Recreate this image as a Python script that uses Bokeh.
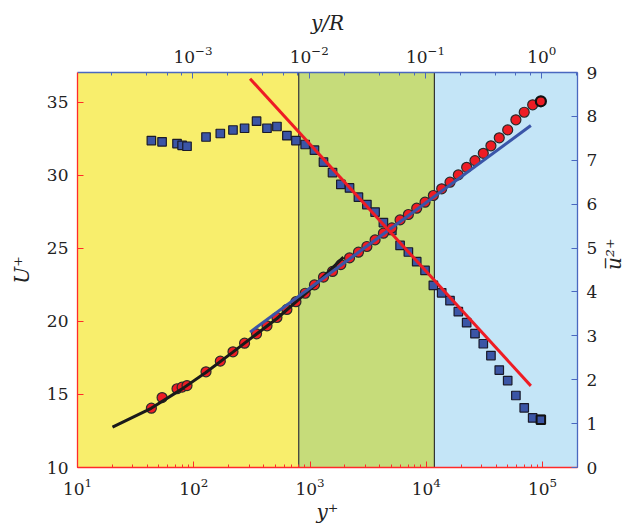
import math
from bokeh.plotting import figure
from bokeh.models import (Range1d, LinearAxis, LogAxis, LogScale, FixedTicker,
                          BoxAnnotation, Span)
from bokeh.embed import file_html
from bokeh.resources import INLINE

# ---------------- data ----------------
yplus = [43.2, 53.4, 71.8, 79.4, 87.5, 127.5, 169.2, 217.5, 273.6, 347,
         426.6, 519.5, 632.9, 756.8, 909.2, 1092.6, 1306, 1562, 1842, 2188,
         2610, 3085, 3630, 4280, 5058, 5954, 7018, 8277, 9761, 11510,
         13575, 16007, 18874, 22258, 26248, 30951, 36005, 42460, 50178, 59030,
         69620, 82306, 96800]
U_plus = [14.06, 14.79, 15.39, 15.50, 15.61, 16.55, 17.28, 17.92, 18.51, 19.15,
          19.70, 20.27, 20.82, 21.35, 21.93, 22.50, 23.03, 23.42, 23.89, 24.35,
          24.74, 25.13, 25.58, 26.04, 26.40, 26.95, 27.32, 27.75, 28.16, 28.62,
          29.08, 29.53, 30.03, 30.55, 31.01, 31.51, 32.02, 32.57, 33.11, 33.80,
          34.32, 34.83, 35.07]
u2_plus = [7.45, 7.42, 7.38, 7.34, 7.32, 7.53, 7.61, 7.69, 7.73, 7.89,
           7.73, 7.77, 7.56, 7.45, 7.36, 7.23, 6.96, 6.72, 6.45, 6.37,
           6.16, 5.99, 5.82, 5.58, 5.40, 5.06, 4.91, 4.69, 4.49, 4.15,
           3.98, 3.80, 3.55, 3.30, 3.05, 2.82, 2.55, 2.22, 1.98, 1.64,
           1.36, 1.13, 1.09]

fit_yplus = [20, 43, 80, 127, 217, 520, 1092, 1940]
fit_U = [12.76, 14.05, 15.4, 16.5, 17.9, 20.2, 22.45, 24.4]

loglaw_yplus = [305, 79400]
loglaw_U = [19.27, 33.41]

u2law_yplus = [305, 79400]
u2law_u2 = [8.86, 1.86]

region_edges = [800, 11750]
Re_tau = 98500
x_limits = [10, 200000]
U_limits = [10, 37.04]
u2_limits = [0, 9]
U_ticks = [10, 15, 20, 25, 30, 35]
u2_ticks = [0, 1, 2, 3, 4, 5, 6, 7, 8, 9]

# ---------------- style ----------------
RED = "#ee1c24"
AXRED = "#ff2a2a"
AXBLUE = "#4a68c0"
BLUE = "#3a55a8"
SQ = "#3b55a6"
YELLOW = "#f8ee6c"
GREEN = "#c6dc7a"
LIGHTBLUE = "#c4e5f7"
FONT = "DejaVu Serif"

p = figure(width=641, height=528, x_axis_type="log",
           x_range=Range1d(*x_limits), y_range=Range1d(*U_limits),
           output_backend="svg", toolbar_location=None, title=None,
           min_border_left=77, min_border_right=63,
           min_border_top=72, min_border_bottom=61)
p.outline_line_color = None
p.grid.visible = False
p.background_fill_color = "white"
p.border_fill_color = "white"

p.extra_x_ranges = {"yR": Range1d(x_limits[0] / Re_tau, x_limits[1] / Re_tau)}
p.extra_x_scales = {"yR": LogScale()}
p.extra_y_ranges = {"u2": Range1d(*u2_limits)}

# background regions
p.add_layout(BoxAnnotation(left=None, right=region_edges[0], fill_color=YELLOW,
                           fill_alpha=1, line_color=None, level="underlay"))
p.add_layout(BoxAnnotation(left=region_edges[0], right=region_edges[1], fill_color=GREEN,
                           fill_alpha=1, line_color=None, level="underlay"))
p.add_layout(BoxAnnotation(left=region_edges[1], right=None, fill_color=LIGHTBLUE,
                           fill_alpha=1, line_color=None, level="underlay"))
for e in region_edges:
    p.add_layout(Span(location=e, dimension="height", line_color="#333333",
                      line_width=1.2, level="underlay"))

# data
p.scatter(yplus, u2_plus, y_range_name="u2", marker="square", size=8.5,
          fill_color=SQ, line_color="#1a1a2a", line_width=1.2)
p.scatter(yplus[-1:], u2_plus[-1:], y_range_name="u2", marker="square", size=8.5,
          fill_color=SQ, line_color="#111111", line_width=2)
p.scatter(yplus, U_plus, marker="circle", size=10,
          fill_color=RED, line_color="#2a2a2a", line_width=1.2)
p.scatter(yplus[-1:], U_plus[-1:], marker="circle", size=10,
          fill_color=RED, line_color="#111111", line_width=2.2)

p.line(fit_yplus, fit_U, line_color="#1a1a1a", line_width=3)
p.line(loglaw_yplus, loglaw_U, line_color=BLUE, line_width=3)
p.line(u2law_yplus, u2law_u2, y_range_name="u2", line_color=RED, line_width=3)

# axes
def style(ax, color, minor=True):
    ax.axis_line_color = color
    ax.axis_line_width = 1.3
    ax.major_tick_line_color = color
    ax.major_tick_in = 6
    ax.major_tick_out = 0
    if minor:
        ax.minor_tick_line_color = color
        ax.minor_tick_in = 3
        ax.minor_tick_out = 0
    else:
        ax.minor_tick_line_color = None
    ax.major_label_text_font = FONT
    ax.major_label_text_font_size = "17px"
    ax.major_label_text_color = "#222222"
    ax.axis_label_text_font = FONT
    ax.axis_label_text_font_size = "20px"
    ax.axis_label_text_font_style = "italic"
    ax.axis_label_text_color = "#222222"

bottom = p.xaxis[0]
style(bottom, AXRED)
bottom.axis_label = "y⁺"
bottom.major_label_standoff = 10
bottom.axis_label_standoff = 2

left = p.yaxis[0]
style(left, AXRED, minor=False)
left.ticker = FixedTicker(ticks=U_ticks)
left.axis_label = "U⁺"
left.major_label_standoff = 9
left.axis_label_standoff = 10

top = LogAxis(x_range_name="yR", axis_label="y/R")
style(top, AXBLUE)
top.major_label_standoff = 10
top.axis_label_standoff = 8
p.add_layout(top, "above")

right = LinearAxis(y_range_name="u2", ticker=FixedTicker(ticks=u2_ticks),
                   axis_label="u\u0305\u0305²⁺")
style(right, AXBLUE, minor=False)
right.major_label_standoff = 9
right.axis_label_standoff = 14
right.axis_label_orientation = math.pi / 2
p.add_layout(right, "right")

open("out.html", "w").write(file_html(p, INLINE))
